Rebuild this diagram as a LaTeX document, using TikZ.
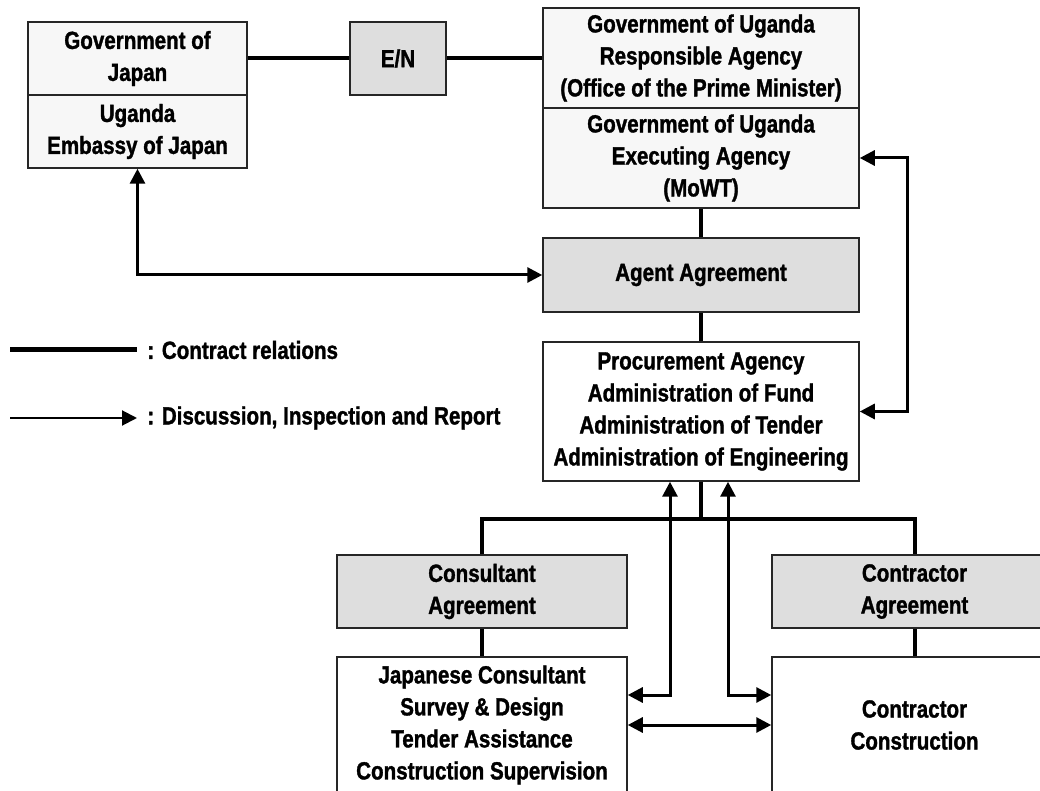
\documentclass[tikz,border=0pt]{standalone}
\usepackage{fontspec}
\setmainfont{Liberation Sans}[FakeStretch=0.83,BoldFeatures={FakeBold=1.3}]
\usetikzlibrary{arrows.meta,calc}

\begin{document}
\begin{tikzpicture}[x=0.5pt,y=-0.5pt,
    box/.style={draw=black!85,line width=0.75pt,inner sep=0pt,align=center,
      font=\bfseries\fontsize{12.4}{16}\selectfont},
    govbox/.style={box,fill=black!3},
    agreebox/.style={box,fill=black!13},
    workbox/.style={box,fill=white},
    contract/.style={line width=2pt},
    talk/.style={line width=1.5pt,
      {Triangle[length=7.5pt,width=7.5pt]}-{Triangle[length=7.5pt,width=7.5pt]}},
    legend/.style={anchor=west,inner sep=0pt,font=\bfseries\fontsize{12.4}{16}\selectfont}]
  \useasboundingbox (0,0) rectangle (1040,791);
  \clip (0,0) rectangle (1040,791);
  % Japan side
  \node[govbox,minimum width=109.5pt,minimum height=36.5pt] (goj) at (137.5,58.5) {Government of\\Japan};
  \node[govbox,minimum width=109.5pt,minimum height=36.5pt] (emb) at (137.5,131.5) {Uganda\\Embassy of Japan};
  \node[agreebox,minimum width=48pt,minimum height=36.5pt] (en) at (398,58.5) {E/N};
  % Uganda side
  \node[govbox,minimum width=158pt,minimum height=50pt] (gou) at (701,58) {Government of Uganda\\Responsible Agency\\(Office of the Prime Minister)};
  \node[govbox,minimum width=158pt,minimum height=50pt] (mowt) at (701,158) {Government of Uganda\\Executing Agency\\(MoWT)};
  \node[agreebox,minimum width=158pt,minimum height=37pt] (agent) at (701,275) {Agent Agreement};
  \node[workbox,minimum width=158pt,minimum height=69.5pt] (proc) at (701,411.5) {Procurement Agency\\Administration of Fund\\Administration of Tender\\Administration of Engineering};
  % Consultant and contractor
  \node[agreebox,minimum width=145pt,minimum height=36.5pt] (consagr) at (482,591.5) {Consultant\\Agreement};
  \node[agreebox,minimum width=142.5pt,minimum height=36.5pt] (contagr) at (914.5,591.5) {Contractor\\Agreement};
  \node[workbox,minimum width=145pt,minimum height=68pt] (cons) at (482,725) {Japanese Consultant\\Survey \& Design\\Tender Assistance\\Construction Supervision};
  \node[workbox,minimum width=142.5pt,minimum height=68pt] (cont) at (914.5,725) {Contractor\\Construction};
  % Contract relations
  \draw[contract] (goj.east) -- (en.west);
  \draw[contract] (en.east) -- (en.east -| gou.west);
  \draw[contract] (mowt.south) -- (agent.north);
  \draw[contract] (agent.south) -- (proc.north);
  \draw[contract] (proc.south) -- ++(0,37) coordinate (bus);
  \draw[contract] (consagr.north) |- (bus) -| (contagr.north);
  \draw[contract] (consagr.south) -- (cons.north);
  \draw[contract] (contagr.south) -- (cont.north);
  % Discussion, inspection and report
  \draw[talk] (emb.south) |- (agent.west);
  \draw[talk] (mowt.east) -- ++(48,0) |- (proc.east);
  \draw[talk] ($(proc.south)+(-31,0)$) |- ($(cons.east)+(0,-30)$);
  \draw[talk] ($(proc.south)+(27,0)$) |- ($(cont.west)+(0,-30)$);
  \draw[talk] (cons.east) -- (cont.west);
  % Legend
  \coordinate (lgA) at (10,350);
  \coordinate (lgB) at (137,350);
  \coordinate (lgC) at (10,418);
  \coordinate (lgD) at (137,418);
  \draw[line width=2.5pt] (lgA) -- (lgB);
  \draw[line width=1pt,-{Triangle[length=7.5pt,width=7.5pt]}] (lgC) -- (lgD);
  \node[legend] (lgtxtA) at (147,350) {: Contract relations};
  \node[legend] (lgtxtB) at (147,418) {: Discussion, Inspection and Report};
\end{tikzpicture}
\end{document}
